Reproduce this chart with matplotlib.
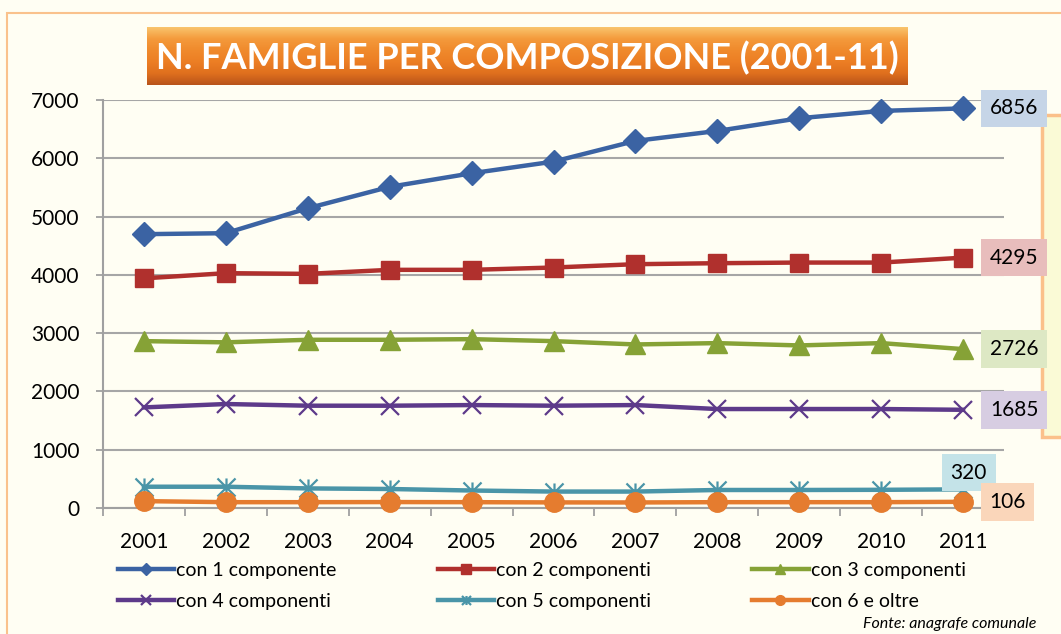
import numpy as np
import matplotlib
matplotlib.use("Agg")
import matplotlib.pyplot as plt
from matplotlib.path import Path
from matplotlib.patches import Rectangle
from matplotlib.colors import LinearSegmentedColormap

plt.rcParams['font.family'] = ['Lato', 'DejaVu Sans']

years = ['2001', '2002', '2003', '2004', '2005', '2006', '2007', '2008', '2009', '2010', '2011']
c1 = [4698, 4715, 5143, 5510, 5743, 5943, 6298, 6469, 6687, 6813, 6856]
c2 = [3940, 4029, 4017, 4086, 4086, 4126, 4183, 4200, 4211, 4211, 4295]
c3 = [2863, 2842, 2886, 2886, 2897, 2863, 2806, 2829, 2789, 2829, 2726]
c4 = [1726, 1784, 1755, 1755, 1766, 1755, 1766, 1698, 1698, 1698, 1685]
c5 = [365, 365, 336, 326, 300, 282, 282, 309, 309, 312, 320]
c6 = [118, 100, 100, 102, 100, 96, 95, 100, 100, 100, 106]
labels = ['con 1 componente', 'con 2 componenti', 'con 3 componenti',
          'con 4 componenti', 'con 5 componenti', 'con 6 e oltre']
yticks = [0, 1000, 2000, 3000, 4000, 5000, 6000, 7000]

W, H = 1061, 634
BG = '#FFFEF3'
fig = plt.figure(figsize=(W / 100, H / 100), dpi=100, facecolor=BG)

def fr(x0, y0, x1, y1):
    return [x0 / W, 1 - y1 / H, (x1 - x0) / W, (y1 - y0) / H]

# outer frame
b = fr(7, 13, 1075, 650)
fig.add_artist(Rectangle((b[0], b[1]), b[2], b[3], transform=fig.transFigure,
                         fill=False, edgecolor='#FAC28C', lw=1.5, zorder=0))
# right side box
b = fr(1042, 115, 1080, 437)
fig.add_artist(Rectangle((b[0], b[1]), b[2], b[3], transform=fig.transFigure,
                         facecolor='#FAFAD6', edgecolor='#FBC08A', lw=2.5, zorder=0))

ax = fig.add_axes(fr(103, 100, 1004, 508))
ax.set_facecolor('none')
x = np.arange(len(years))

star = Path([(-1, -1), (1, 1), (-1, 1), (1, -1), (0, -1), (0, 1)],
            [Path.MOVETO, Path.LINETO, Path.MOVETO, Path.LINETO, Path.MOVETO, Path.LINETO])

series = [
    (c1, '#3B63A3', dict(marker='D', ms=12)),
    (c2, '#B0302D', dict(marker='s', ms=13)),
    (c3, '#86A236', dict(marker='^', ms=14)),
    (c4, '#5D3A8A', dict(marker='x', ms=13, mew=1.6)),
    (c5, '#4A95A8', dict(marker=star, ms=13, mew=1.6, fillstyle='none')),
    (c6, '#E57C2F', dict(marker='o', ms=14)),
]
handles = []
for (vals, col, mk), lab in zip(series, labels):
    h, = ax.plot(x, vals, color=col, lw=3.2, label=lab, mfc=col, mec=col,
                 zorder=3, clip_on=False, **mk)
    handles.append(h)

ax.set_xlim(-0.5, 10.5)
ax.set_ylim(0, 7000)
ax.set_yticks(yticks)
ax.set_yticklabels([str(v) for v in yticks], fontweight='normal')
ax.set_xticks(x)
ax.set_xticklabels(years, fontweight='normal')
ax.set_xticks(np.arange(-0.5, 11, 1), minor=True)
ax.tick_params(axis='x', which='major', length=0, pad=17, labelsize=15)
ax.tick_params(axis='x', which='minor', length=6, width=1.3, color='#A0A0A0', direction='out')
ax.tick_params(axis='y', length=5, width=1.3, color='#A0A0A0', pad=12, labelsize=15)
ax.yaxis.grid(True, color='#A6A6A6', lw=1.5, zorder=0)
for s in ['top', 'right']:
    ax.spines[s].set_visible(False)
for s in ['left', 'bottom']:
    ax.spines[s].set_color('#A0A0A0')
    ax.spines[s].set_linewidth(1.5)

# data labels
lab_cfg = [
    (c1, '#C6D5E7', (37, 0)),
    (c2, '#E8BDBC', (37, 0)),
    (c3, '#DDE8C4', (37, 0)),
    (c4, '#D7CDE2', (37, 0)),
    (c5, '#C4E3E8', (4, 12)),
    (c6, '#FAD6BA', (32, 0)),
]
for vals, bg, off in lab_cfg:
    ax.annotate(str(vals[-1]), xy=(10, vals[-1]), xytext=off, textcoords='offset points',
                ha='center', va='center', fontsize=15, color='black',
                bbox=dict(boxstyle='square,pad=0.42', fc=bg, ec='none'),
                zorder=5, annotation_clip=False)

# title box with gradient
tax = fig.add_axes(fr(147, 27, 907, 85))
tax.set_axis_off()
cmap = LinearSegmentedColormap.from_list('t', ['#F9C46C', '#F49A3C', '#F08A2C', '#EC7E24', '#E0701E', '#B9541A'])
grad = np.linspace(0, 1, 100).reshape(-1, 1)
tax.imshow(grad, aspect='auto', cmap=cmap, extent=(0, 1, 0, 1), origin='upper')
tax.set_xlim(0, 1)
tax.set_ylim(0, 1)
tax.text(0.5, 0.47, 'N. FAMIGLIE PER COMPOSIZIONE (2001-11)', ha='center', va='center',
         color='white', fontsize=26, fontweight='bold')

order = [0, 3, 1, 4, 2, 5]
leg = fig.legend([handles[i] for i in order], [labels[i] for i in order],
                 ncol=3, loc='upper left', bbox_to_anchor=(118 / W, 1 - 562 / H),
                 frameon=False, fontsize=14, handlelength=2.9, handletextpad=0.1,
                 columnspacing=5.2, labelspacing=0.7, markerscale=0.5, borderaxespad=0,
                 borderpad=0)

fig.text(1036 / W, 1 - 624 / H, 'Fonte: anagrafe comunale', ha='right', va='center',
         fontsize=11.5, style='italic')

fig.savefig('out.png', dpi=100, facecolor=BG)
